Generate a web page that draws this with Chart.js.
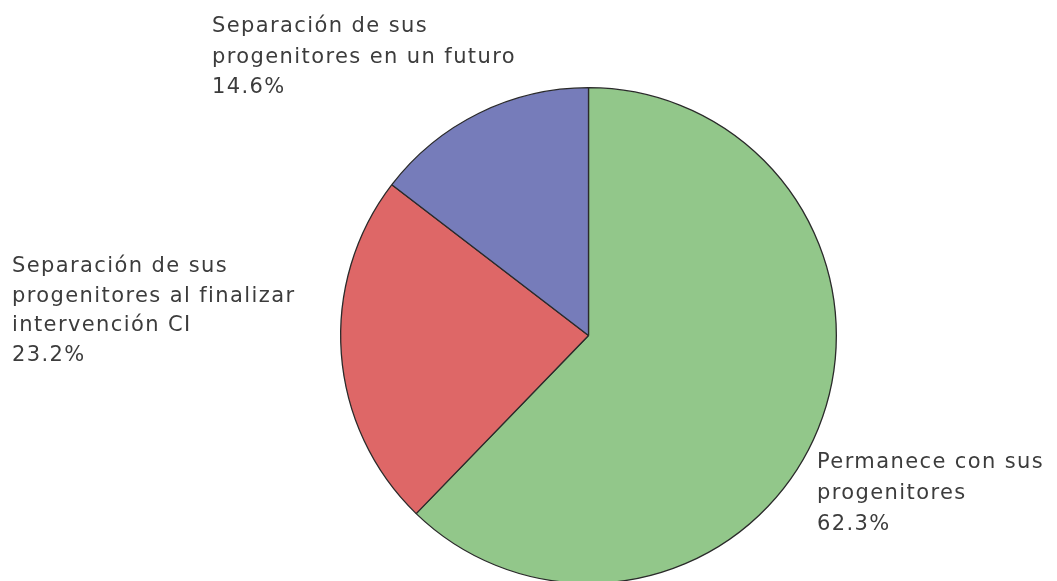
<!DOCTYPE html>
<html>
<head>
<meta charset="utf-8">
<script src="https://cdn.jsdelivr.net/npm/chart.js@4"></script>
<style>
html,body{margin:0;padding:0;background:#fff;overflow:hidden;}
#wrap{position:absolute;left:0;top:0;width:1057px;height:620px;}
</style>
</head>
<body>
<div id="wrap"><canvas id="c" width="1057" height="620"></canvas></div>
<script>
const categories = ["Permanece con sus progenitores", "Separación de sus progenitores al finalizar intervención CI", "Separación de sus progenitores en un futuro"];
const values = [62.3, 23.2, 14.6];
const labelLines = [
  ["Permanece con sus", "progenitores", "62.3%"],
  ["Separación de sus", "progenitores al finalizar", "intervención CI", "23.2%"],
  ["Separación de sus", "progenitores en un futuro", "14.6%"]
];
const colors = ["#92C78A", "#DE6767", "#767CBA"];

const labelPos = [
  {x: 817, y: 468, lh: 31},
  {x: 12, y: 272, lh: 29.5},
  {x: 212, y: 32, lh: 30.5}
];

const outsideLabels = {
  id: 'outsideLabels',
  afterDraw(chart) {
    const ctx = chart.ctx;
    ctx.save();
    ctx.fillStyle = '#3c3c3c';
    ctx.font = '21px "DejaVu Sans"';
    ctx.letterSpacing = '1.4px';
    ctx.textAlign = 'left';
    ctx.textBaseline = 'alphabetic';
    labelLines.forEach((lines, i) => {
      const p = labelPos[i];
      lines.forEach((t, j) => ctx.fillText(t, p.x, p.y + j * p.lh));
    });
    ctx.restore();
  }
};

new Chart(document.getElementById('c'), {
  type: 'pie',
  data: {
    labels: categories,
    datasets: [{
      data: values,
      backgroundColor: colors,
      borderColor: '#2a2a2a',
      borderWidth: 1.3
    }]
  },
  options: {
    responsive: false,
    animation: false,
    layout: {padding: {left: 340, right: 220, top: 87, bottom: 36}},
    plugins: {legend: {display: false}, tooltip: {enabled: false}}
  },
  plugins: [outsideLabels]
});
</script>
</body>
</html>
